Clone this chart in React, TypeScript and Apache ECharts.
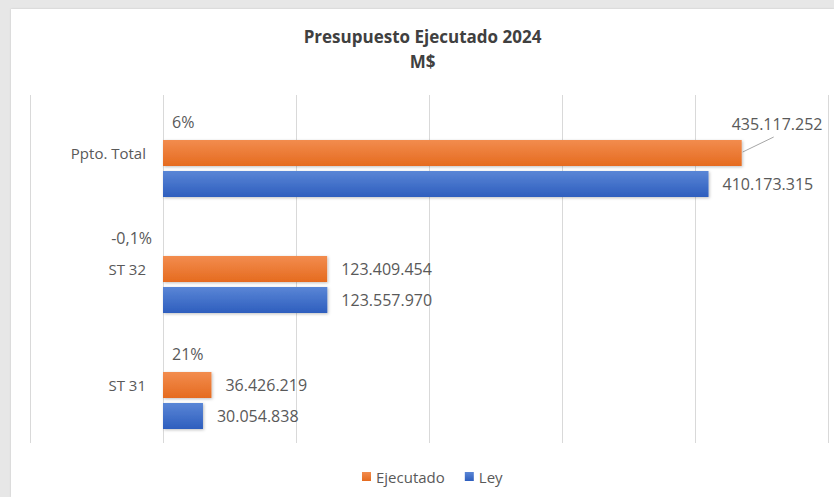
import React, { useEffect, useRef } from "react";
import * as echarts from "echarts";

const categories = ["ST 31", "ST 32", "Ppto. Total"];
const ejecutado = [36426219, 123409454, 435117252];
const ley = [30054838, 123557970, 410173315];
const variacion = [21, -0.1, 6];
const seriesNames = ["Ejecutado", "Ley"];

const FONT = "'Open Sans', sans-serif";
const TXT = "#595959";

function fmtNum(v: number): string {
  const s = Math.round(v).toString();
  return s.replace(/\B(?=(\d{3})+(?!\d))/g, ".");
}
function fmtPct(v: number): string {
  return String(v).replace(".", ",") + "%";
}

export default function App() {
  const ref = useRef<HTMLDivElement>(null);
  useEffect(() => {
    if (!ref.current) return;
    const chart = echarts.init(ref.current, null, { renderer: "svg" });
    const orange = new echarts.graphic.LinearGradient(0, 0, 0, 1, [
      { offset: 0, color: "#F28C4E" },
      { offset: 1, color: "#E56B1F" },
    ]);
    const blue = new echarts.graphic.LinearGradient(0, 0, 0, 1, [
      { offset: 0, color: "#5A86D6" },
      { offset: 1, color: "#2E5EBE" },
    ]);
    const pctLabel = (v: number) => ({
      show: true,
      position: v < 0 ? "left" : "right",
      distance: v < 0 ? 11 : 9,
      fontFamily: FONT,
      fontSize: 16,
      color: TXT,
      formatter: fmtPct(v),
    });
    chart.setOption({
      animation: false,
      backgroundColor: "#ffffff",
      title: {
        text: "Presupuesto Ejecutado 2024\nM$",
        left: "center",
        top: 10,
        textStyle: {
          fontFamily: FONT,
          fontSize: 17,
          fontWeight: "bold",
          color: "#404040",
          lineHeight: 25,
        },
      },
      legend: {
        data: seriesNames,
        top: 455,
        left: 346,
        itemWidth: 9,
        itemHeight: 9,
        itemGap: 20,
        icon: "rect",
        textStyle: { fontFamily: FONT, fontSize: 15, color: TXT },
      },
      grid: {
        left: 19,
        right: 6,
        top: 86,
        bottom: 54,
        containLabel: false,
        outerBoundsMode: "none",
      },
      xAxis: {
        type: "value",
        min: -100000000,
        max: 500000000,
        interval: 100000000,
        axisLabel: { show: false },
        axisLine: { show: false },
        axisTick: { show: false },
        splitLine: { show: true, lineStyle: { color: "#d9d9d9", width: 1 } },
      },
      yAxis: {
        type: "category",
        data: categories,
        offset: -133,
        axisLine: { show: false },
        axisTick: { show: false },
        axisLabel: {
          fontFamily: FONT,
          fontSize: 15,
          color: TXT,
          margin: 17,
        },
      },
      series: [
        {
          name: "Variación",
          type: "bar",
          data: variacion.map((v) => ({ value: v, label: pctLabel(v) })),
          barWidth: 26,
          barGap: "19%",
          itemStyle: { color: "rgba(255,255,255,0)" },
          legendHoverLink: false,
        },
        {
          name: "Ejecutado",
          type: "bar",
          data: ejecutado,
          barWidth: 26,
          barGap: "19%",
          itemStyle: {
            color: orange,
            shadowColor: "rgba(0,0,0,0.25)",
            shadowBlur: 3,
            shadowOffsetX: 1,
            shadowOffsetY: 1,
          },
          label: {
            show: true,
            position: "right",
            distance: 14,
            fontFamily: FONT,
            fontSize: 16,
            color: TXT,
            formatter: (p: any) => fmtNum(p.value),
          },
          labelLayout: (params: any) => {
            if (params.dataIndex === 2) {
              return { dx: -24, dy: -29 };
            }
            return {};
          },
        },
        {
          name: "Ley",
          type: "bar",
          data: ley,
          barWidth: 26,
          barGap: "19%",
          itemStyle: {
            color: blue,
            shadowColor: "rgba(0,0,0,0.25)",
            shadowBlur: 3,
            shadowOffsetX: 1,
            shadowOffsetY: 1,
          },
          label: {
            show: true,
            position: "right",
            distance: 14,
            fontFamily: FONT,
            fontSize: 16,
            color: TXT,
            formatter: (p: any) => fmtNum(p.value),
          },
        },
      ],
      color: ["rgba(255,255,255,0)", "#ED7D31", "#4472C4"],
    });
    // leader line for the moved total label, anchored on the bar end via the axis scale
    const end = chart.convertToPixel({ gridIndex: 0 }, [ejecutado[2], categories[2]]) as number[];
    if (end && isFinite(end[0])) {
      chart.setOption({
        graphic: [
          {
            type: "line",
            shape: { x1: end[0] + 1, y1: end[1] - 1, x2: end[0] + 32, y2: end[1] - 16 },
            style: { stroke: "#a6a6a6", lineWidth: 1 },
            silent: true,
          },
        ],
      });
    }
    return () => chart.dispose();
  }, []);
  return (
    <div
      style={{
        position: "absolute",
        left: 0,
        top: 0,
        width: 834,
        height: 497,
        background: "#e7e7e7",
        overflow: "hidden",
      }}
    >
      <div
        ref={ref}
        style={{
          position: "absolute",
          left: 11,
          top: 9,
          width: 823,
          height: 488,
          background: "#ffffff",
          boxShadow: "0 0 2px rgba(0,0,0,0.15)",
        }}
      />
    </div>
  );
}
